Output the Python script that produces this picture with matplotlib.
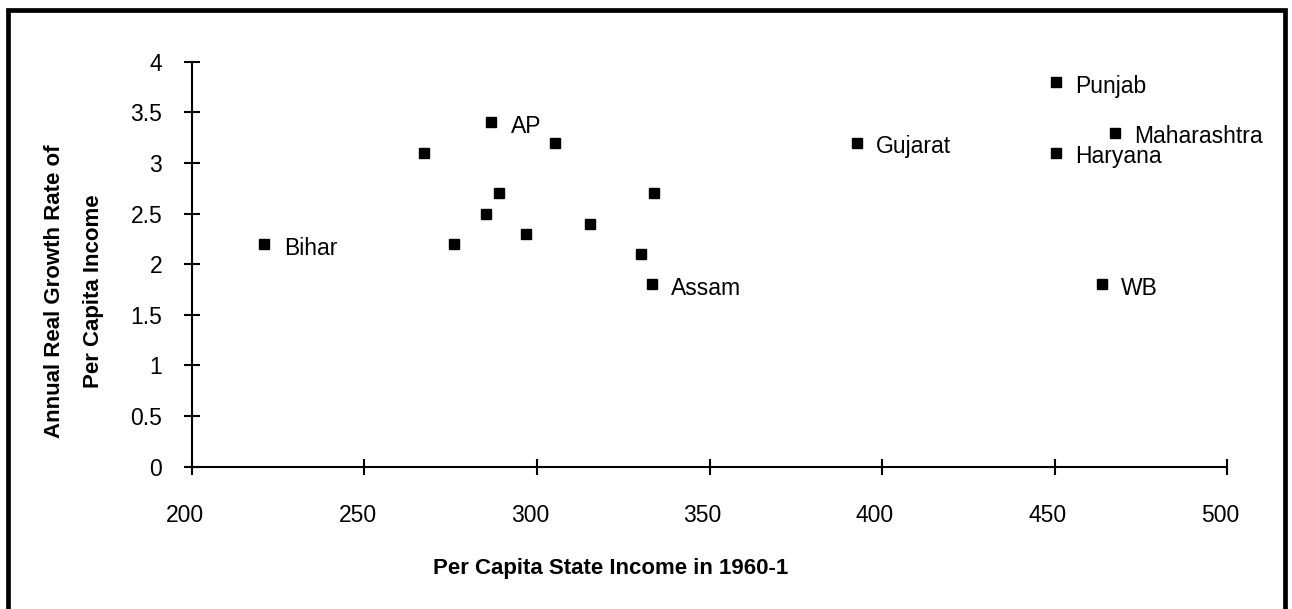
import matplotlib
matplotlib.use("Agg")
from matplotlib import pyplot as plt
from matplotlib.patches import Rectangle
from matplotlib.transforms import ScaledTranslation

plt.rcParams['font.family'] = ['Liberation Sans', 'DejaVu Sans']

# per capita state income 1960-1 vs annual real growth rate
income = [221, 267.3, 275.9, 286.7, 285.1, 289.1, 296.7, 305.2, 315.3,
          330.1, 333.8, 333.2, 392.7, 450.4, 450.4, 467.5, 463.7]
growth = [2.2, 3.1, 2.2, 3.4, 2.5, 2.7, 2.3, 3.2, 2.4,
          2.1, 2.7, 1.8, 3.2, 3.8, 3.1, 3.3, 1.8]
states = ['Bihar', '', '', 'AP', '', '', '', '', '',
          '', '', 'Assam', 'Gujarat', 'Punjab', 'Haryana', 'Maharashtra', 'WB']

xticks = [200, 250, 300, 350, 400, 450, 500]
yticks = [0, 0.5, 1, 1.5, 2, 2.5, 3, 3.5, 4]
ytick_labels = ['0', '0.5', '1', '1.5', '2', '2.5', '3', '3.5', '4']

fig = plt.figure(figsize=(12.92, 6.09), dpi=100)
ax = fig.add_axes([0.1486, 0.2337, 0.8011, 0.665])

ax.plot(income, growth, linestyle='none', marker='s', ms=7, color='black', clip_on=False)
for x, y, name in zip(income, growth, states):
    if name:
        ax.annotate(name, (x, y), xytext=(14, -3), textcoords='offset points',
                    ha='left', va='center', fontsize=16.5)

ax.set_xlim(200, 500)
ax.set_ylim(0, 4)
ax.set_xticks(xticks)
ax.set_yticks(yticks)
ax.set_yticklabels(ytick_labels)

for side in ['top', 'right']:
    ax.spines[side].set_visible(False)
for side in ['left', 'bottom']:
    ax.spines[side].set_linewidth(1.5)

ax.tick_params(axis='both', direction='inout', length=12, width=1.5, labelsize=16.5)
ax.tick_params(axis='x', pad=21)
ax.tick_params(axis='y', pad=15.5)

shift = ScaledTranslation(-7 / 100, 0, fig.dpi_scale_trans)
for lab in ax.get_xticklabels():
    lab.set_transform(lab.get_transform() + shift)

ax.set_xlabel('Per Capita State Income in 1960-1', fontsize=16, fontweight='bold')
ax.xaxis.set_label_coords(0.404, -0.2526)
ax.xaxis.label.set_va('center')

ax.set_ylabel('Annual Real Growth Rate of\nPer Capita Income', fontsize=16,
              fontweight='bold', linespacing=2.15)
ax.yaxis.set_label_coords(-0.1140, 0.434)
ax.yaxis.label.set_va('center')

fig.patches.append(Rectangle((0.0064, -0.02), 0.9884, 1.0118 - 0.0082, transform=fig.transFigure,
                             fill=False, ec='black', lw=3.4))

fig.savefig('out.png', dpi=100)
